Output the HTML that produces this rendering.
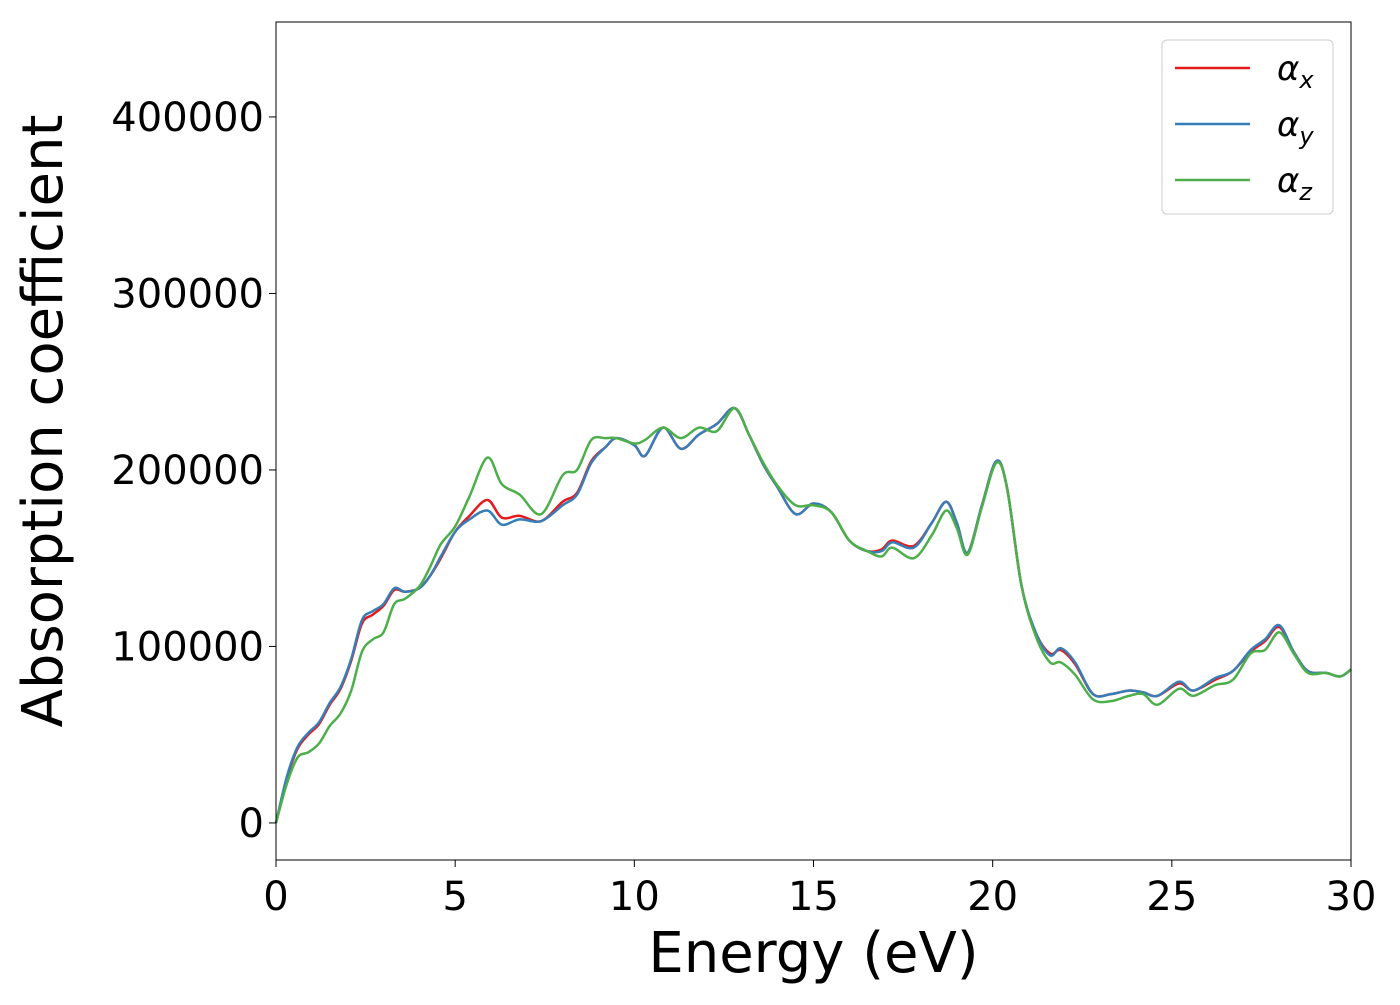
<!DOCTYPE html>
<html><head><meta charset="utf-8"><style>
body{margin:0;background:#fff}
svg text{font-family:"DejaVu Sans","Liberation Sans",sans-serif}
</style></head><body>
<svg id="chart" width="1400" height="1000" xmlns="http://www.w3.org/2000/svg">
<g id="plot"></g>
</svg>
<script>
const energy=[0,0.3,0.6,0.9,1.2,1.5,1.8,2.1,2.4,2.7,3.0,3.3,3.6,4.0,4.3,4.6,5.0,5.4,5.9,6.3,6.8,7.4,8.0,8.4,8.8,9.2,9.5,10.0,10.3,10.8,11.3,11.8,12.3,12.8,13.2,13.6,14.0,14.5,15.0,15.5,16.0,16.5,16.9,17.2,17.8,18.3,18.7,19.0,19.3,19.7,20.1,20.4,20.8,21.2,21.6,21.9,22.3,22.8,23.3,23.8,24.2,24.6,25.2,25.6,26.2,26.7,27.2,27.6,28.0,28.4,28.8,29.3,29.7,30];
const alphaX=[0,25000,42000,50000,56000,67000,76000,92000,113000,118000,123000,132000,131000,133000,140000,150000,165000,174000,183000,173000,174000,171000,182000,187000,205000,213000,218000,214000,208000,224000,212000,220000,226000,235000,220000,203000,190000,175000,181000,176000,160000,154000,155000,160000,157000,170000,182000,170000,153000,180000,205000,190000,135000,108000,96000,98000,90000,73000,73000,75000,74000,72000,79000,75000,81000,86000,97000,103000,111000,97000,86000,85000,83000,87000];
const alphaY=[0,26000,43000,51000,57000,68000,77000,93000,115000,120000,124000,133000,131000,133000,140000,151000,165000,172000,177000,169000,172000,171000,180000,186000,204000,213000,218000,214000,208000,224000,212000,220000,226000,235000,220000,203000,190000,175000,181000,176000,160000,154000,154000,159000,156000,170000,182000,170000,153000,180000,205000,190000,135000,108000,95000,99000,91000,73000,73000,75000,74000,72000,80000,75000,82000,86000,98000,104000,112000,97000,86000,85000,83000,87000];
const alphaZ=[0,22000,37000,40000,45000,55000,62000,75000,97000,104000,108000,124000,127000,134000,145000,158000,168000,185000,207000,192000,186000,175000,197000,200000,217000,218000,218000,215000,217000,224000,218000,224000,222000,235000,220000,204000,191000,180000,180000,176000,160000,154000,151000,156000,150000,163000,177000,167000,152000,179000,204000,190000,135000,106000,91000,91000,84000,70000,69000,72000,73000,67000,76000,72000,78000,81000,96000,98000,108000,96000,85000,85000,83000,87000];
const xTicks=[0,5,10,15,20,25,30];
const yTicks=[0,100000,200000,300000,400000];
const L=276,R=1351,T=22,B=860,xMin=0,xMax=30,yMin=-21000,yMax=453800;
const sx=v=>L+(v-xMin)/(xMax-xMin)*(R-L);
const sy=v=>B-(v-yMin)/(yMax-yMin)*(B-T);
const NS="http://www.w3.org/2000/svg";
const svg=document.getElementById('chart');
function mk(t,a,p){const e=document.createElementNS(NS,t);for(const k in a)e.setAttribute(k,a[k]);(p||svg).appendChild(e);return e;}
function path(xs,ys){const p=xs.map((x,i)=>[sx(x),sy(ys[i])]);let d=`M${p[0][0]},${p[0][1]}`;
for(let i=0;i<p.length-1;i++){const p0=p[i-1]||p[i],p1=p[i],p2=p[i+1],p3=p[i+2]||p2;
d+=` C${p1[0]+(p2[0]-p0[0])/6},${p1[1]+(p2[1]-p0[1])/6} ${p2[0]-(p3[0]-p1[0])/6},${p2[1]-(p3[1]-p1[1])/6} ${p2[0]},${p2[1]}`;}return d;}
const plot=document.getElementById('plot');
const series=[[alphaX,'#e41a1c','series-alpha-x'],[alphaY,'#377eb8','series-alpha-y'],[alphaZ,'#4daf4a','series-alpha-z']];
series.forEach(s=>{const e=mk('path',{d:path(energy,s[0]),fill:'none',stroke:s[1],'stroke-width':2.5},plot);

});
const fr=mk('rect',{x:L,y:T,width:R-L,height:B-T,fill:'none',stroke:'#000','stroke-width':1});


xTicks.forEach(v=>{const x=sx(v);mk('line',{x1:x,x2:x,y1:B,y2:B+7,stroke:'#000'});
const t=mk('text',{x:x,y:B+50,'font-size':40,'text-anchor':'middle'});t.textContent=v;

});
yTicks.forEach(v=>{const y=sy(v);mk('line',{x1:L-7,x2:L,y1:y,y2:y,stroke:'#000'});
const t=mk('text',{x:L-12,y:y+14,'font-size':40,'text-anchor':'end'});t.textContent=v;

});
const xt=mk('text',{x:(L+R)/2,y:972,'font-size':56,'text-anchor':'middle'});xt.textContent='Energy (eV)';


const yt=mk('text',{x:0,y:0,'font-size':56,'text-anchor':'middle',transform:`translate(62,${(T+B)/2-20}) rotate(-90)`});yt.textContent='Absorption coefficient';


const lg=mk('g',{});


mk('rect',{x:1162,y:40,width:171,height:174,rx:5,fill:'#fff',stroke:'#ccc','stroke-width':1},lg);
const subs=['x','y','z'];
series.forEach((s,i)=>{const y=68+i*56;mk('line',{x1:1175,x2:1250,y1:y,y2:y,stroke:s[1],'stroke-width':2.5},lg);
const t=mk('text',{x:1277,y:y+12,'font-size':34,'font-style':'italic'},lg);
t.innerHTML=`α<tspan font-size="24" dy="8">${subs[i]}</tspan>`;

});
</script>
</body></html>
